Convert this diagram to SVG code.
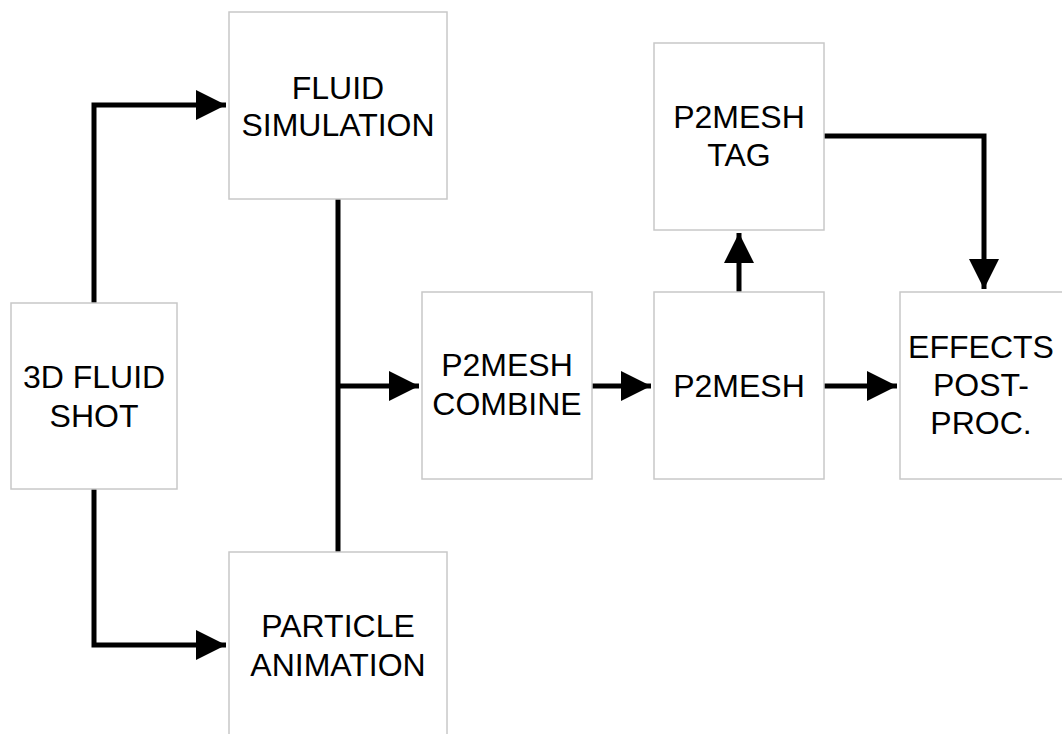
<svg xmlns="http://www.w3.org/2000/svg" width="1062" height="734" viewBox="0 0 1062 734">
<style>
.box{fill:#ffffff;stroke:#c8c8c8;stroke-width:1.5}
.lbl{font-family:"Liberation Sans",Arial,sans-serif;font-size:32px;fill:#000;text-anchor:middle}
.wire{fill:none;stroke:#000;stroke-width:5;stroke-linejoin:miter;stroke-linecap:butt}
</style>
<defs>
<marker id="arr" markerUnits="userSpaceOnUse" markerWidth="30" markerHeight="30" viewBox="0 0 28 28" refX="28" refY="14" orient="auto">
<path d="M0,0 L28,14 L0,28 Z" fill="#000"/>
</marker>
</defs>
<rect width="1062" height="734" fill="#ffffff"/>
<g id="connectors">
<path class="wire" d="M94,303 V105 H226" marker-end="url(#arr)"/>
<path class="wire" d="M94,489 V645 H226" marker-end="url(#arr)"/>
<path class="wire" d="M338,199 V552"/>
<path class="wire" d="M338,386 H419" marker-end="url(#arr)"/>
<path class="wire" d="M592,386 H651" marker-end="url(#arr)"/>
<path class="wire" d="M824,386 H897" marker-end="url(#arr)"/>
<path class="wire" d="M739,292 V233" marker-end="url(#arr)"/>
<path class="wire" d="M824,136 H984 V289" marker-end="url(#arr)"/>
</g>
<g id="fluid-simulation">
<rect class="box" x="229" y="12" width="218" height="187"/>
<text class="lbl" x="338" y="99">FLUID</text>
<text class="lbl" x="338" y="136">SIMULATION</text>
</g>
<g id="fluid-shot">
<rect class="box" x="11" y="303" width="166" height="186"/>
<text class="lbl" x="94" y="388">3D FLUID</text>
<text class="lbl" x="94" y="427">SHOT</text>
</g>
<g id="particle-animation">
<rect class="box" x="229" y="552" width="218" height="187"/>
<text class="lbl" x="338" y="637">PARTICLE</text>
<text class="lbl" x="338" y="676">ANIMATION</text>
</g>
<g id="p2mesh-combine">
<rect class="box" x="422" y="292" width="170" height="187"/>
<text class="lbl" x="507" y="376">P2MESH</text>
<text class="lbl" x="507" y="415">COMBINE</text>
</g>
<g id="p2mesh">
<rect class="box" x="654" y="292" width="170" height="187"/>
<text class="lbl" x="739" y="397">P2MESH</text>
</g>
<g id="p2mesh-tag">
<rect class="box" x="654" y="43" width="170" height="187"/>
<text class="lbl" x="739" y="128">P2MESH</text>
<text class="lbl" x="739" y="166">TAG</text>
</g>
<g id="effects">
<rect class="box" x="900" y="292" width="170" height="187"/>
<text class="lbl" x="981" y="358">EFFECTS</text>
<text class="lbl" x="981" y="396">POST-</text>
<text class="lbl" x="981" y="434">PROC.</text>
</g>
</svg>
